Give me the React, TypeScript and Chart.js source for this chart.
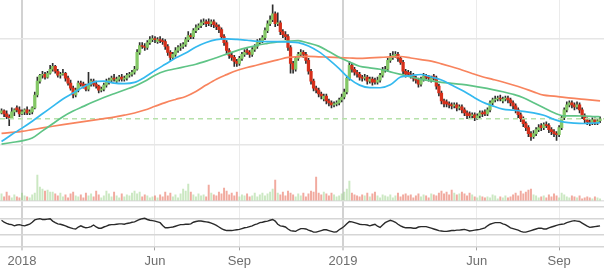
import React, { useEffect, useRef } from 'react';
import { Chart, registerables } from 'chart.js';

Chart.register(...registerables);

// trading-day index of the first sample and spacing between samples (days)
const firstDay = -16;
const dayStep = 2;
const xMin = -17.2;
const xMax = 455.1;

const opens = [
  136,138,135,132,131,137,141,139,135,137,
  139,136,137,141,154,168,174,175,172,176,
  180,183,178,174,175,176,171,166,161,154,
  159,166,165,163,160,165,168,165,163,159,
  160,164,167,169,171,168,170,172,170,171,
  174,175,177,180,197,204,203,202,207,210,
  211,208,210,209,208,203,197,192,195,199,
  202,203,205,210,214,213,219,222,224,227,
  228,228,226,228,225,223,220,213,207,199,
  194,192,188,186,191,195,199,197,195,200,
  203,207,209,212,219,226,230,236,226,227,
  218,215,213,202,186,180,191,195,197,195,
  189,178,168,161,159,155,150,153,148,146,
  144,145,146,149,152,157,171,184,180,177,
  175,172,171,172,168,170,169,167,169,174,
  179,180,189,192,194,195,191,187,178,177,
  175,174,171,169,165,170,173,172,169,173,
  171,163,156,148,147,145,144,143,144,141,
  142,139,136,135,133,134,131,133,136,137,
  135,139,146,149,150,151,148,150,151,149,
  146,143,139,134,130,125,121,115,112,115,
  119,123,121,124,123,119,117,115,114,121,
  131,139,144,146,144,142,144,139,133,129,
  127,126,129,126,128
];
const highs = [
  140,139,138,134,141,140,143,142,139,140,
  142,139,142,157,172,175,178,177,178,184,
  186,184,180,177,180,177,173,169,163,161,
  168,168,167,165,177,170,170,168,164,162,
  166,170,171,173,175,172,174,175,173,176,
  177,179,183,200,207,207,206,209,213,214,
  213,212,213,211,210,205,199,197,202,204,
  206,207,212,218,216,221,225,226,230,231,
  230,231,230,230,227,225,222,215,209,201,
  196,194,190,193,197,200,201,199,202,205,
  210,211,214,222,229,234,245,238,237,229,
  220,218,215,204,188,193,197,200,199,197,
  191,180,170,163,161,157,155,155,150,148,
  147,148,151,155,160,173,188,186,182,179,
  177,174,175,174,172,172,171,172,176,182,
  183,191,196,198,198,197,193,189,180,179,
  178,176,173,171,172,176,175,174,173,175,
  173,165,158,150,149,147,146,146,146,144,
  144,141,138,137,136,136,135,138,138,139,
  141,148,151,153,153,154,152,153,153,151,
  148,145,141,136,132,127,123,117,118,121,
  124,125,126,127,125,121,119,117,123,133,
  141,147,148,148,146,147,146,141,135,131,
  129,131,131,130,132
];
const lows = [
  135,132,130,123,130,133,137,132,134,134,
  134,134,135,140,152,166,171,170,171,175,
  178,176,172,171,174,168,164,159,151,152,
  157,163,161,158,158,163,163,161,156,157,
  158,162,165,167,168,166,168,168,168,169,
  172,173,175,179,195,201,199,200,205,208,
  207,206,207,205,200,194,189,190,193,197,
  199,201,203,208,211,211,217,220,222,225,
  223,224,223,222,220,217,210,204,195,191,
  189,183,183,184,189,193,195,192,193,198,
  201,205,207,210,217,224,228,223,224,215,
  212,210,199,176,176,178,189,193,192,186,
  175,165,158,156,152,150,148,145,143,141,
  142,143,144,147,150,155,169,177,174,172,
  169,168,169,165,166,164,165,165,167,172,
  177,178,187,190,192,188,185,175,172,173,
  171,168,166,162,163,168,170,168,167,169,
  160,153,145,142,142,141,140,141,138,139,
  136,133,130,131,131,128,129,131,132,133,
  133,137,144,147,148,148,146,148,146,143,
  140,136,131,127,122,118,112,108,110,113,
  117,118,119,121,116,114,112,108,112,119,
  129,137,142,141,139,140,136,130,126,124,
  123,124,124,124,126
];
const closes = [
  138,135,132,131,137,139,139,135,137,139,
  136,137,141,154,168,174,175,172,176,180,
  183,178,174,175,176,171,166,161,154,159,
  166,165,163,160,165,168,165,163,159,160,
  164,167,169,171,170,170,172,170,171,174,
  175,177,180,197,204,203,202,207,210,211,
  210,210,209,208,203,197,192,195,199,202,
  203,205,210,214,213,219,222,224,227,228,
  226,226,228,225,223,220,213,207,199,194,
  192,188,186,191,195,197,197,195,200,203,
  207,209,212,219,226,230,236,226,227,218,
  215,213,202,186,180,191,195,197,195,189,
  178,168,161,159,155,153,153,148,146,144,
  145,146,149,152,157,171,184,180,177,175,
  172,171,172,168,170,167,167,169,174,179,
  180,189,192,194,195,191,187,178,175,175,
  174,171,169,165,170,173,172,171,171,171,
  163,156,148,145,145,144,143,144,141,142,
  139,136,133,133,134,131,133,136,135,135,
  139,146,149,150,151,150,150,151,149,146,
  143,139,134,130,125,121,115,112,115,119,
  121,121,124,123,119,117,115,114,121,131,
  139,144,146,144,142,144,139,133,129,127,
  126,129,126,128,130
];
const volumes = [
  7,4,9,5,3,6,4,3,8,5,
  4,3,6,8,26,14,12,10,11,9,
  9,7,5,8,4,6,3,7,9,5,
  4,6,3,8,5,7,4,10,6,3,
  5,10,7,4,9,5,3,7,4,6,
  5,8,10,7,9,4,6,5,3,4,
  5,3,6,4,9,5,8,4,6,3,
  7,12,10,17,9,6,4,7,5,6,
  4,16,8,6,5,9,7,13,10,6,
  8,5,9,4,6,5,7,4,5,8,
  4,6,8,5,7,9,12,21,8,6,
  9,5,10,8,6,4,7,5,8,4,
  7,10,9,24,8,6,9,7,5,8,
  6,4,5,7,9,12,20,8,6,5,
  4,6,5,8,4,7,9,5,3,6,
  5,4,6,3,5,8,4,6,7,5,
  6,3,5,7,4,6,5,3,7,6,
  5,8,10,7,9,6,11,8,6,7,
  9,7,5,8,6,4,3,5,4,3,
  4,3,6,5,2,4,3,5,3,4,
  6,8,5,10,7,9,11,12,6,5,
  3,4,5,3,6,4,7,5,3,8,
  6,4,3,5,4,3,5,2,3,4,
  3,2,4,3,2
];
const rsi = [
  66,61,58,56,55,52,54,55,53,52,
  54,56,61,67,69,70,68,68,69,70,
  64,60,57,56,54,52,49,47,45,44,
  49,52,49,47,48,50,54,49,46,46,
  49,51,54,55,55,56,57,57,56,58,
  59,61,62,65,68,70,71,68,66,65,
  64,62,60,53,47,47,48,49,51,53,
  55,55,56,56,57,61,63,64,64,63,
  62,61,59,56,53,49,45,42,40,40,
  40,41,42,43,45,47,48,50,52,55,
  57,60,61,63,64,66,68,64,56,52,
  51,49,44,40,39,38,42,45,45,44,
  41,39,36,36,38,40,42,42,40,38,
  36,37,42,46,51,57,63,62,60,58,
  56,55,55,54,52,54,56,51,48,54,
  60,63,66,64,61,56,52,49,47,47,
  47,46,46,49,50,50,50,48,46,44,
  42,40,39,38,38,39,40,40,41,41,
  42,43,41,39,40,41,42,43,45,47,
  52,56,58,60,60,60,57,55,51,47,
  45,43,41,38,36,36,38,40,42,44,
  46,46,44,44,47,49,51,53,55,56,
  57,60,62,64,65,64,63,59,55,51,
  48,49,50,51,52
];

// moving averages sampled every 8 trading days
const maStep = 8;
const maFast = [
  107,114,120.5,127.5,135,142.5,150,156,162,167,168,166,165.5,166.7,172,178.7,185,191.3,196.4,202.5,
  207,210,210.7,210.2,209.3,208.3,208,208,207.6,207,203.6,197.8,189.8,180.7,170.5,164,161.4,161.3,164.3,172.1,
  173.6,174.7,172.2,169.2,164.1,158.8,152.7,147,143,139.7,138.7,137.5,136,133.5,129.4,126.6,125.5,125.2,125.7,126
];
const maMid = [
  104.3,106,107.7,110.5,117.7,125,132.1,137.8,142.5,147.1,151.4,155.3,159.1,162.9,167.9,174,178.2,180.5,182.8,185.1,
  188.2,191.7,195.3,198.9,201.8,204.3,206.1,207.7,208.4,208.9,206.4,203.4,198,192.2,187.4,183.1,181.5,180,177.4,174.8,
  172.3,169.8,168.3,166.8,165.8,164.7,163.2,161.5,159.5,157.3,154.7,151.3,146.2,141.1,136,133,133,132.8,132.2,132
];
const maSlow = [
  115.2,116.2,117.3,119,120.7,122.4,124,125.5,127,128.6,130.1,131.6,133.6,135.8,138.8,142.6,146.3,149.5,152.5,157.5,
  164,170,174.6,178.8,181.8,184.3,187,189.5,192,192.7,193,192.6,192.2,191.8,191.4,191,191.5,192,192.5,192.9,
  191.4,189.8,188.3,185.5,182.5,179.3,175.7,172.4,169.8,167.1,164.1,160.8,157.2,153.8,152.9,151.6,150.5,149.5,148.5,148
];
const supportLevel = 130;

const tickDays = [0, 104, 170, 251, 355.5, 420];
const tickLabels = ['2018', 'Jun', 'Sep', '2019', 'Jun', 'Sep'];
const yearTickDays = [0, 251];
const priceGrid = [104, 211];
const volumeGrid = [0];
const rsiGrid = [0, 30, 70, 100];

const UP = '#84c766';
const DOWN = '#d62f1a';
const VOL_UP = 'rgba(140,205,120,0.45)';
const VOL_DOWN = 'rgba(230,100,80,0.55)';

export default function App() {
  const ref = useRef<HTMLCanvasElement>(null);

  useEffect(() => {
    document.body.style.margin = '0';
    const days = closes.map((_, i) => firstDay + i * dayStep);
    const lastDay = days[days.length - 1];
    const maDays = maFast.map((_, i) => Math.min(firstDay + i * maStep, lastDay));
    const isUp = (i: number) => closes[i] >= opens[i];
    const maLine = (vals: number[]) => vals.map((v, i) => ({ x: maDays[i], y: v }));

    const hiddenY = (min: number, max: number, weight: number, grid: number[], color: string, lw: number) => ({
      type: 'linear' as const,
      position: 'right' as const,
      stack: 'panes',
      stackWeight: weight,
      min,
      max,
      offset: false,
      grid: { color, lineWidth: lw, drawTicks: false },
      border: { display: false },
      ticks: { display: false },
      afterBuildTicks: (s: any) => {
        s.ticks = grid.map((v) => ({ value: v }));
      },
    });

    const chart = new Chart(ref.current as HTMLCanvasElement, {
      type: 'bar',
      data: {
        datasets: [
          {
            type: 'line',
            label: 'RSI',
            yAxisID: 'yRsi',
            data: rsi.map((v, i) => ({ x: days[i], y: v })),
            borderColor: '#2a2a2a',
            borderWidth: 1.4,
            pointRadius: 0,
            tension: 0,
            order: 1,
          },
          {
            type: 'line',
            label: 'MA fast',
            yAxisID: 'yPrice',
            data: maLine(maFast),
            borderColor: '#34b9ef',
            borderWidth: 1.7,
            pointRadius: 0,
            cubicInterpolationMode: 'monotone',
            order: 2,
          },
          {
            type: 'line',
            label: 'MA mid',
            yAxisID: 'yPrice',
            data: maLine(maMid),
            borderColor: '#5fc486',
            borderWidth: 1.7,
            pointRadius: 0,
            cubicInterpolationMode: 'monotone',
            order: 2,
          },
          {
            type: 'line',
            label: 'MA slow',
            yAxisID: 'yPrice',
            data: maLine(maSlow),
            borderColor: '#f8845e',
            borderWidth: 1.7,
            pointRadius: 0,
            cubicInterpolationMode: 'monotone',
            order: 2,
          },
          {
            type: 'line',
            label: 'Level',
            yAxisID: 'yPrice',
            data: [
              { x: xMin, y: supportLevel },
              { x: xMax, y: supportLevel },
            ],
            borderColor: '#b6e1aa',
            borderWidth: 1.5,
            borderDash: [5, 4],
            pointRadius: 0,
            order: 3,
          },
          {
            type: 'bar',
            label: 'Body',
            yAxisID: 'yPrice',
            data: opens.map((o, i) => ({ x: days[i], y: [o, closes[i]] })) as any,
            backgroundColor: (ctx: any) => (isUp(ctx.dataIndex) ? UP : DOWN),
            barThickness: 2.6,
            grouped: false,
            borderWidth: 0,
            order: 4,
          },
          {
            type: 'bar',
            label: 'Wick',
            yAxisID: 'yPrice',
            data: lows.map((l, i) => ({ x: days[i], y: [l, highs[i]] })) as any,
            backgroundColor: '#2e2e2e',
            barThickness: 1,
            grouped: false,
            borderWidth: 0,
            order: 5,
          },
          {
            type: 'bar',
            label: 'Volume',
            yAxisID: 'yVol',
            data: volumes.map((v, i) => ({ x: days[i], y: v })) as any,
            backgroundColor: (ctx: any) => (isUp(ctx.dataIndex) ? VOL_UP : VOL_DOWN),
            barThickness: 1.3,
            grouped: false,
            borderWidth: 0,
            order: 6,
          },
        ],
      } as any,
      options: {
        responsive: false,
        animation: false,
        devicePixelRatio: 1,
        layout: { padding: { left: 0, right: 0, top: 0, bottom: 4 } },
        plugins: { legend: { display: false }, tooltip: { enabled: false } },
        scales: {
          x: {
            type: 'linear',
            position: 'bottom',
            min: xMin,
            max: xMax,
            offset: false,
            grid: {
              offset: false,
              color: (ctx: any) => (ctx.tick && yearTickDays.includes(ctx.tick.value) ? '#d2d2d2' : '#ebebeb'),
              lineWidth: (ctx: any) => (ctx.tick && yearTickDays.includes(ctx.tick.value) ? 2 : 1),
              tickLength: 4,
              tickColor: '#a5a5a5',
              tickWidth: 1,
            },
            border: { display: false },
            ticks: {
              autoSkip: false,
              maxRotation: 0,
              padding: 3,
              color: '#6e6e6e',
              font: { family: "'Liberation Sans', Arial, sans-serif", size: 13 },
              callback: (v: any) => {
                const i = tickDays.indexOf(Number(v));
                return i >= 0 ? tickLabels[i] : '';
              },
            },
            afterBuildTicks: (s: any) => {
              s.ticks = tickDays.map((v) => ({ value: v }));
            },
          },
          yPrice: hiddenY(100, 250, 150, priceGrid, '#e6e6e6', 1.5),
          yVol: hiddenY(-6, 53, 59, volumeGrid, '#e3e3e3', 1.5),
          yRsi: hiddenY(0, 100, 40, rsiGrid, '#d6d6d6', 1.5),
        } as any,
      },
    });
    return () => chart.destroy();
  }, []);

  return <canvas ref={ref} width={604} height={276} style={{ display: 'block' }} />;
}
